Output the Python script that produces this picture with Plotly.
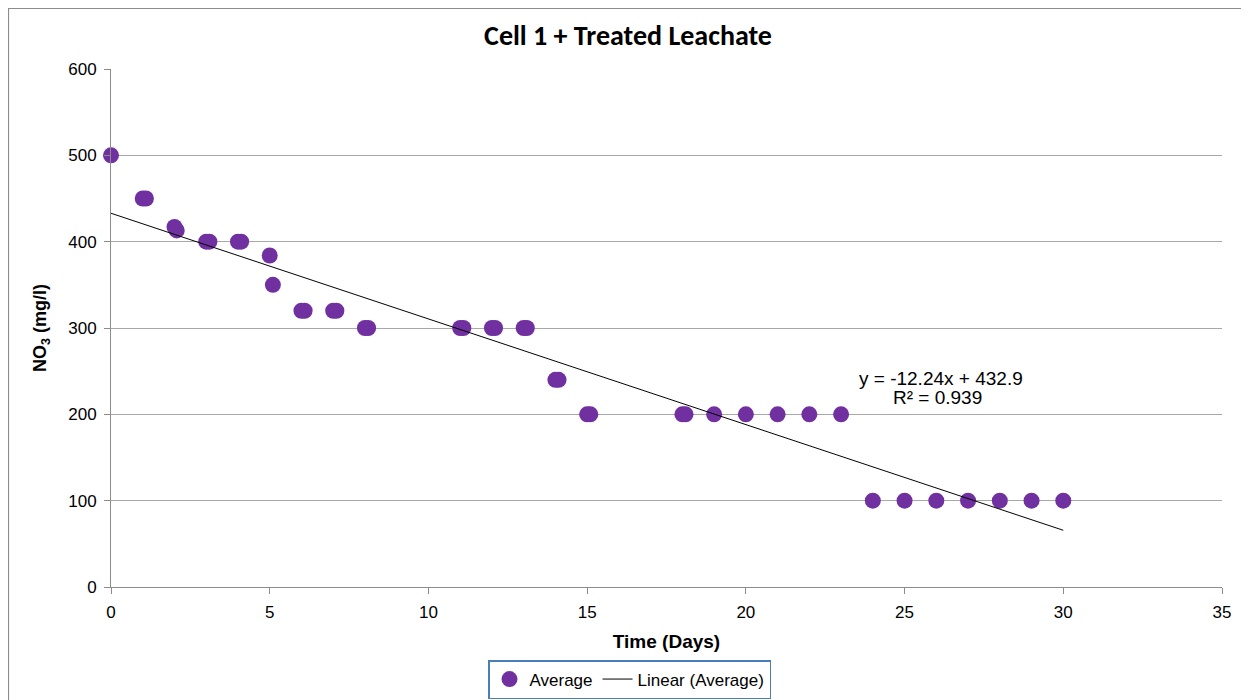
import plotly.graph_objects as go

# Data
days = [0, 1, 1.1, 2, 2.07, 3, 3.1, 4, 4.1, 5, 5.1, 6, 6.1, 7, 7.1, 8, 8.1,
        11, 11.1, 12, 12.1, 13, 13.1, 14, 14.1, 15, 15.1, 18, 18.1,
        19, 20, 21, 22, 23, 24, 25, 26, 27, 28, 29, 30]
no3 = [500, 450, 450, 417, 413, 400, 400, 400, 400, 384, 350, 320, 320, 320, 320, 300, 300,
       300, 300, 300, 300, 300, 300, 240, 240, 200, 200, 200, 200,
       200, 200, 200, 200, 200, 100, 100, 100, 100, 100, 100, 100]

slope = -12.24
intercept = 432.9
r_squared = 0.939

x_fit = [min(days), max(days)]
y_fit = [slope * x + intercept for x in x_fit]

# page body has an 8px margin; figure is sized to fill the rest of the window
W, H = 1241, 692
ML, MR, MT, MB = 103, 27, 61, 113
PW, PH = W - ML - MR, H - MT - MB

fig = go.Figure()
fig.add_trace(go.Scatter(
    x=days, y=no3, mode="markers", name="Average", cliponaxis=False,
    marker=dict(color="#7030A0", size=16, line=dict(width=0)),
))
fig.add_trace(go.Scatter(
    x=x_fit, y=y_fit, mode="lines", name="Linear (Average)",
    line=dict(color="black", width=1),
))

ann_font = dict(family="Liberation Sans, Arial", size=19, color="black")
fig.add_annotation(x=26.15, y=242, xref="x", yref="y",
                   text=f"y = {slope}x + {intercept}", showarrow=False, font=ann_font)
fig.add_annotation(x=26.04, y=220, xref="x", yref="y",
                   text=f"R² = {r_squared}", showarrow=False, font=ann_font)

# outer chart border
fig.add_shape(type="rect", xref="paper", yref="paper",
              x0=(0.5 - ML) / PW, x1=(1239.5 - ML) / PW,
              y0=(PH - (H + 30 - MT)) / PH, y1=(PH + MT - 0.5) / PH,
              line=dict(color="#8c8c8c", width=1.2), fillcolor="rgba(0,0,0,0)", layer="below")

fig.update_layout(
    width=W, height=H,
    paper_bgcolor="white", plot_bgcolor="white",
    margin=dict(l=ML, r=MR, t=MT, b=MB, autoexpand=False),
    title=dict(text="<b>Cell 1 + Treated Leachate</b>", x=620 / W, xref="container",
               y=1 - 27 / H, yref="container", xanchor="center", yanchor="middle",
               font=dict(family="Carlito, Liberation Sans Narrow, Arial", size=28, color="black")),
    font=dict(family="Liberation Sans, Arial", color="black"),
    xaxis=dict(
        range=[0, 35], dtick=5, tick0=0, showgrid=False, zeroline=False,
        showline=True, linecolor="#8c8c8c", linewidth=1,
        ticks="outside", ticklen=6, tickcolor="#8c8c8c", ticklabelstandoff=4,
        tickfont=dict(size=17, color="black"),
        title=dict(text="<b>Time (Days)</b>", font=dict(size=19, color="black"), standoff=13),
    ),
    yaxis=dict(
        range=[0, 600], dtick=100, tick0=0, showgrid=True, gridcolor="#a8a8a8", gridwidth=1,
        zeroline=False, showline=True, linecolor="#8c8c8c", linewidth=1,
        ticks="outside", ticklen=6, tickcolor="#8c8c8c", ticklabelstandoff=4,
        tickfont=dict(size=17, color="black"),
        title=dict(text="<b>NO<sub>3</sub> (mg/l)</b>", font=dict(size=18, color="black"), standoff=16),
    ),
    legend=dict(
        orientation="h", x=(621.5 - ML) / PW, xanchor="center", y=(PH - (652 - MT)) / PH, yanchor="top",
        bordercolor="#4A7EBB", borderwidth=1.5, bgcolor="white",
        font=dict(size=17, color="black"), itemwidth=30, tracegroupgap=0,
    ),
    showlegend=True,
)

fig.write_html("out.html")
